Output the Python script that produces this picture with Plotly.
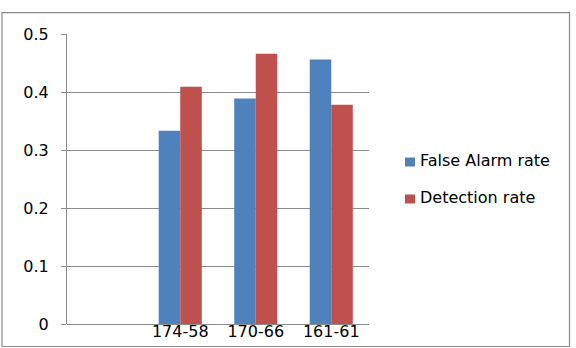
import plotly.graph_objects as go

categories = [" ", "174-58", "170-66", "161-61"]
series_names = ["False Alarm rate", "Detection rate"]
false_alarm = [None, 0.333, 0.389, 0.456]
detection = [None, 0.409, 0.466, 0.378]
colors = ["#4F81BD", "#C0504D"]
y_ticks = [0, 0.1, 0.2, 0.3, 0.4, 0.5]
y_tick_labels = ["0", "0.1", "0.2", "0.3", "0.4", "0.5"]

W, H = 576, 348
L, R, T, B = 67, 369, 34, 324

fig = go.Figure()
for name, vals, col in zip(series_names, [false_alarm, detection], colors):
    fig.add_trace(go.Bar(x=categories, y=vals, name=name,
                         marker=dict(color=col, line=dict(width=0))))

pw, ph = R - L, B - T
def px(x): return (x - L) / pw
def py(y): return (B - y) / ph

fig.add_shape(type="rect", xref="paper", yref="paper",
              x0=px(2), x1=px(569.5), y0=py(346.5), y1=py(12.7),
              line=dict(color="#8c8c8c", width=1.2), layer="below")

# manual legend
leg_y = [162, 199]
for name, col, yc in zip(series_names, colors, leg_y):
    fig.add_shape(type="rect", xref="paper", yref="paper",
                  x0=px(405), x1=px(415), y0=py(yc + 4.5), y1=py(yc - 4.5),
                  fillcolor=col, line=dict(width=0))
    fig.add_annotation(xref="paper", yref="paper", x=px(418), y=py(yc - 1.5),
                       xanchor="left", yanchor="middle", showarrow=False,
                       text=name, font=dict(size=16, color="black"))

fig.update_layout(
    width=W, height=H, autosize=False,
    margin=dict(l=L, r=W - R, t=T, b=H - B, pad=0, autoexpand=False),
    paper_bgcolor="white", plot_bgcolor="white",
    font=dict(family="DejaVu Sans", size=16, color="black"),
    barmode="group", bargap=0.43, bargroupgap=0,
    showlegend=False,
    xaxis=dict(type="category", categoryorder="array", categoryarray=categories,
               showgrid=False, showline=False, ticks="", zeroline=False,
               automargin=False,
               tickfont=dict(size=16), ticklabelstandoff=-4),
    yaxis=dict(range=[0, 0.5], tickvals=y_ticks, ticktext=y_tick_labels,
               showgrid=True, gridcolor="#8c8c8c", gridwidth=1,
               showline=True, linecolor="#8c8c8c", linewidth=1,
               ticks="outside", ticklen=5, tickcolor="#8c8c8c",
               zeroline=True, zerolinecolor="#8c8c8c", zerolinewidth=1,
               automargin=False,
               tickfont=dict(size=16), ticklabelstandoff=9),
)

fig.write_html("out.html")
